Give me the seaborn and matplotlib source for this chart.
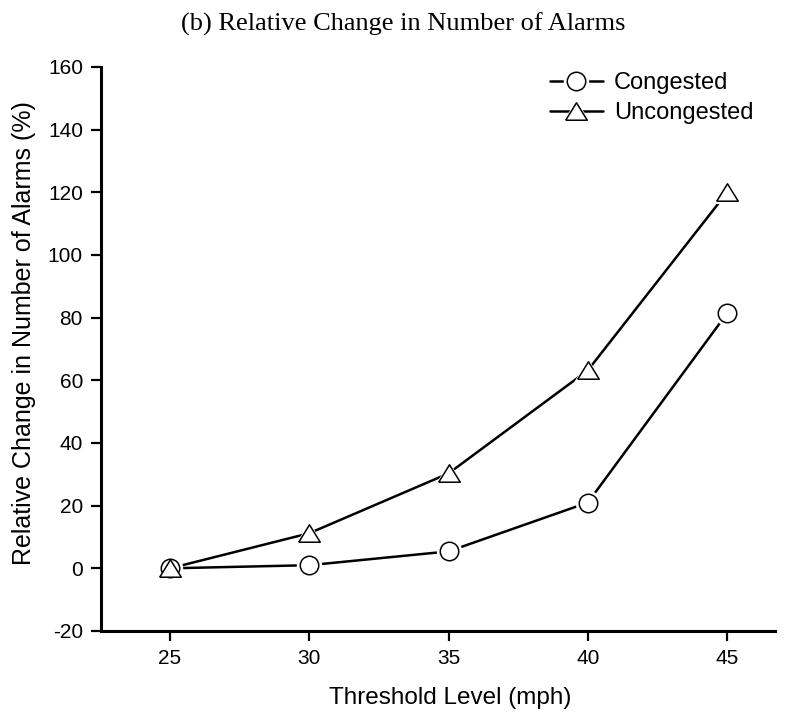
import numpy as np
import pandas as pd
import matplotlib
matplotlib.use("Agg")
import matplotlib.pyplot as plt
from matplotlib.lines import Line2D
from matplotlib.legend_handler import HandlerTuple
import seaborn as sns

thresholds = [25, 30, 35, 40, 45]
congested = [0.0, 1.0, 5.4, 21.0, 81.4]
uncongested = [0.0, 11.2, 30.3, 63.2, 120.0]
series_names = ["Congested", "Uncongested"]
y_ticks = [-20, 0, 20, 40, 60, 80, 100, 120, 140, 160]

sns.set_theme(style="ticks")
plt.rcParams["font.family"] = ["Liberation Sans", "DejaVu Sans"]
plt.rcParams["text.color"] = "black"
plt.rcParams["axes.labelcolor"] = "black"

df = pd.DataFrame({
    "Threshold": thresholds * 2,
    "Change": congested + uncongested,
    "Series": [series_names[0]] * 5 + [series_names[1]] * 5,
})

# upright triangle whose bounding box is centred on the data point
tri = [(-1.0, -0.81), (1.0, -0.81), (0.0, 0.81), (-1.0, -0.81)]
marker_spec = {"Congested": ("o", 13.3), "Uncongested": (tri, 15.5)}

fig = plt.figure(figsize=(7.87, 7.15), dpi=100)
ax = fig.add_axes([0.1283, 0.1175, 0.8565, 0.7888])

handles = []
for name in series_names:
    sub = df[df["Series"] == name]
    sns.lineplot(data=sub, x="Threshold", y="Change", color="black",
                 linewidth=1.8, ax=ax, zorder=2, legend=False)
    mk, ms = marker_spec[name]
    # white halo leaves a small gap between line and marker
    ax.plot(sub["Threshold"], sub["Change"], linestyle="none", marker=mk,
            markersize=ms + 5, markerfacecolor="white", markeredgecolor="white",
            markeredgewidth=0, zorder=3, clip_on=False)
    ax.plot(sub["Threshold"], sub["Change"], linestyle="none", marker=mk,
            markersize=ms, markerfacecolor="white", markeredgecolor="black",
            markeredgewidth=1.1, zorder=4, clip_on=False)
    h_line = Line2D([], [], color="black", linewidth=1.8)
    h_halo = Line2D([], [], linestyle="none", marker=mk, markersize=ms + 5,
                    markerfacecolor="white", markeredgecolor="white", markeredgewidth=0)
    h_mark = Line2D([], [], linestyle="none", marker=mk, markersize=ms,
                    markerfacecolor="white", markeredgecolor="black", markeredgewidth=1.1)
    handles.append((h_line, h_halo, h_mark))

ax.set_xlim(22.52, 46.72)
ax.set_ylim(-20, 160)
ax.set_xticks(thresholds)
ax.set_yticks(y_ticks)
ax.set_xticklabels([str(t) for t in thresholds])
ax.set_yticklabels([str(t) for t in y_ticks])

sns.despine(ax=ax)
for side in ["left", "bottom"]:
    ax.spines[side].set_linewidth(2.2)
    ax.spines[side].set_color("black")
ax.tick_params(axis="both", direction="out", length=7, width=1.6,
               colors="black", labelsize=15, pad=6)

ax.set_xlabel("Threshold Level (mph)", fontsize=17.5)
ax.set_ylabel("Relative Change in Number of Alarms (%)", fontsize=18)
ax.xaxis.set_label_coords(0.518, -0.099)
ax.yaxis.set_label_coords(-0.097, 0.528)

fig.text(0.513, 0.957, "(b) Relative Change in Number of Alarms",
         ha="center", va="baseline", fontsize=19,
         family=["Liberation Serif", "DejaVu Serif"])

ax.legend(handles, series_names, handler_map={tuple: HandlerTuple(ndivide=1)},
          loc="upper left", bbox_to_anchor=(0.652, 1.008), frameon=False,
          fontsize=17, handlelength=2.25, handletextpad=0.45,
          labelspacing=0.35, borderaxespad=0)

fig.savefig("out.png", dpi=100, facecolor="white")
